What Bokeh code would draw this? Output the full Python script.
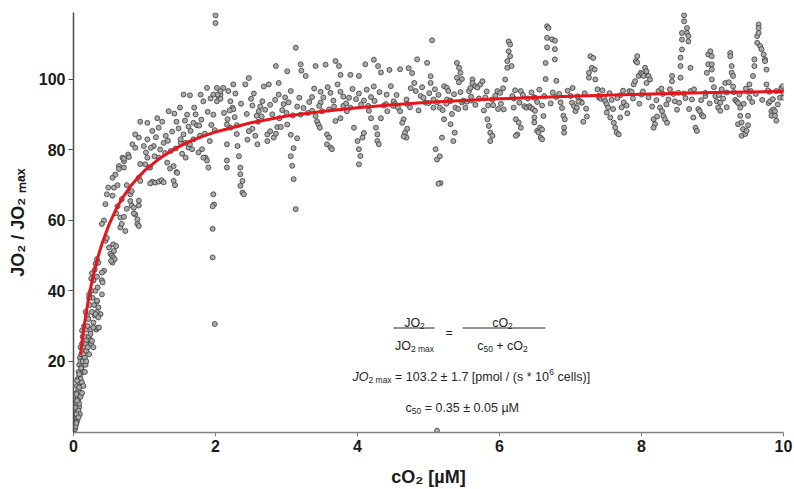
import math
from bokeh.plotting import figure
from bokeh.models import Range1d, FixedTicker, Label
from bokeh.embed import file_html
from bokeh.resources import INLINE

# ---------------- data (cO2 in µM, JO2/JO2max in %) ----------------
obs_rise = [
    (0.01, 0.5), (0.01, 2), (0.02, 1), (0.02, 3), (0.02, 5), (0.03, 2), (0.03, 6), (0.03, 9), (0.04, 4), (0.04, 7),
    (0.04, 11), (0.05, 3), (0.05, 8), (0.05, 13), (0.06, 6), (0.06, 10), (0.06, 15), (0.07, 9), (0.07, 12), (0.07, 17),
    (0.08, 7), (0.08, 14), (0.08, 19), (0.09, 11), (0.09, 16), (0.09, 21), (0.1, 10), (0.1, 15), (0.1, 20), (0.1, 24),
    (0.02, 0.8), (0.03, 1.5), (0.04, 2.5), (0.05, 4), (0.06, 5), (0.07, 6), (0.08, 8), (0.09, 5), (0.02, 6.9), (0.04, 5),
    (0.07, 4.1), (0.04, 10.7), (0.05, 8.8), (0.05, 14.5), (0.08, 12.6), (0.08, 16.4), (0.11, 18.3), (0.14, 20.2), (0.17, 23), (0.19, 24.9),
    (0.11, 18), (0.11, 22), (0.12, 14), (0.12, 25), (0.13, 20), (0.13, 27), (0.14, 17), (0.14, 22), (0.15, 24), (0.15, 30),
    (0.16, 21), (0.16, 27), (0.17, 19), (0.17, 25), (0.18, 23), (0.18, 29), (0.19, 26), (0.19, 33), (0.2, 24), (0.2, 30),
    (0.12, 11), (0.14, 13), (0.16, 17), (0.18, 20), (0.12, 28.7), (0.17, 34),
    (0.21, 32), (0.22, 27), (0.23, 36), (0.24, 29), (0.25, 40), (0.25, 25), (0.26, 34), (0.27, 38), (0.28, 31), (0.28, 43),
    (0.29, 36), (0.3, 33), (0.3, 46), (0.31, 40), (0.32, 29), (0.33, 37), (0.33, 44), (0.34, 41), (0.35, 48), (0.22, 38),
    (0.26, 45), (0.24, 26), (0.28, 24), (0.34, 29.5), (0.36, 29.6), (0.38, 33.4), (0.4, 39), (0.33, 34), (0.26, 25.8), (0.22, 22),
    (0.31, 47.7), (0.33, 49), (0.25, 43.5), (0.28, 43), (0.22, 39), (0.4, 43), (0.43, 45.7), (0.41, 42.4), (0.4, 45.2), (0.33, 37.2),
    (0.35, 35.3), (0.31, 33.4), (0.35, 32.5), (0.28, 29.6), (0.24, 27.8), (0.43, 60), (0.4, 59), (0.45, 64.6), (0.47, 67.4), (0.49, 69.3),
    (0.45, 54.2), (0.47, 55), (0.5, 52.3), (0.52, 50.5), (0.54, 50), (0.56, 49.5), (0.57, 51.3), (0.56, 53.2), (0.6, 52.7), (0.55, 48),
    (0.58, 49), (0.53, 48.5),
    (0.57, 69.3), (0.55, 67), (0.62, 70), (0.55, 72.1), (0.59, 73), (0.64, 75.4), (0.71, 76.8), (0.69, 77.8), (0.77, 78.7), (0.83, 81.6),
    (0.87, 84.4), (0.92, 83.5), (0.71, 75), (0.64, 74.6), (0.71, 77.5), (0.78, 78), (0.87, 80.6), (0.94, 88), (0.66, 58), (0.68, 59),
    (0.73, 57), (0.66, 60.8), (0.71, 61), (0.75, 63.3), (0.82, 64.2), (0.85, 63.6), (0.87, 61.7), (0.9, 60.3), (0.9, 59), (0.92, 58.4),
    (0.92, 64.2), (0.92, 65.6), (0.8, 65.5), (0.85, 62), (0.8, 67.4), (0.82, 68.3), (0.92, 72.1), (0.94, 71.2), (0.94, 76), (0.99, 81.1),
    (0.62, 64), (0.68, 66), (0.75, 70), (0.6, 62),
]

obs_knee = [
    (1.04, 87.7), (1.18, 89), (1.34, 91), (1.42, 90.3), (1.55, 95.7), (1.64, 95.5), (1.79, 95.7), (1.88, 97.6), (2.02, 97.6), (1.04, 77.8),
    (1.08, 75), (1.11, 71), (1.15, 70.7), (1.2, 71), (1.24, 71.4), (1.41, 71.2), (1.43, 70), (1.08, 70.5), (1.27, 70.8), (1.32, 76.4),
    (1.36, 74.7), (1.45, 73.7), (1.51, 82), (1.58, 82), (1.65, 85.4), (1.69, 87.7), (1.74, 87), (1.81, 80.2), (1.86, 77.8), (1.88, 77),
    (1.9, 75), (1.97, 67.4), (1.98, 64.5), (1.96, 64), (1.96, 57.6), (1.96, 49.5), (1.99, 30.6), (2.0, 118.2), (2.0, 116), (2.16, 81.6),
    (2.16, 77), (2.16, 75), (1.04, 83), (1.11, 85.4), (1.2, 86.3), (1.13, 81.1), (1.01, 75.9), (1.06, 75), (1.37, 79.7), (1.41, 75.4),
    (1.46, 73.5), (1.58, 77.8), (1.62, 80.7), (1.64, 81.6), (1.69, 83), (1.78, 84), (1.76, 79.3), (1.83, 77.8), (1.92, 82.5), (1.97, 90),
    (2.02, 93.8), (1.97, 95.7), (2.04, 95.2), (2.07, 95.7), (2.11, 97.6), (2.16, 87.2), (1.51, 83), (1.55, 84.4), (1.27, 82), (1.2, 77.8),
    (1.83, 93.8), (1.93, 94.6), (2.03, 95.7), (1.25, 88), (1.3, 84), (1.5, 92), (1.7, 92), (1.6, 90), (1.45, 88),
    (1.02, 79.3), (1.09, 80.6), (1.14, 78.2), (1.16, 83.6), (1.22, 80.1), (1.29, 79.1), (1.33, 82.6), (1.39, 85.2), (1.44, 80.4), (1.48, 86.1),
    (1.53, 78.9), (1.57, 88.3), (1.62, 86.6), (1.67, 80.2), (1.72, 90.1), (1.77, 86.9), (1.8, 88.6), (1.85, 84.6), (1.89, 90.8), (1.94, 87.1),
    (1.99, 85.6),
]

obs_mid = [
    (2.07, 96.7), (2.18, 96.7), (2.25, 98.6), (2.28, 96), (2.42, 98.6), (2.47, 100.4), (2.54, 96), (2.68, 98), (2.75, 98.6), (2.85, 103.8),
    (2.89, 99), (3.01, 102.3), (3.13, 109), (3.2, 104.3), (3.21, 102.5), (3.27, 101), (3.41, 103.8), (3.55, 104.2), (3.69, 105.2), (3.74, 103.8),
    (3.76, 101.3), (3.9, 101.3), (4.02, 101), (4.11, 104.3), (4.23, 105.6), (4.29, 103.8), (4.33, 102), (4.45, 102.7),
    (2.07, 94.5), (2.21, 93.8), (2.24, 92), (2.25, 91.5), (2.5, 94.5), (2.61, 91), (2.63, 92.3), (2.77, 92.8), (2.89, 95.7), (2.98, 94.9),
    (2.96, 93), (3.06, 96.7), (3.15, 92.3), (3.36, 95), (3.48, 96.5), (3.48, 93.4), (3.62, 96.2), (3.66, 94), (3.76, 96.5), (3.88, 94.8),
    (4.02, 96), (4.09, 94), (4.19, 95), (4.23, 98),
    (2.17, 88.7), (2.21, 86.3), (2.3, 84.5), (2.31, 81.1), (2.33, 78.2), (2.35, 75), (2.35, 73.1), (2.38, 71.2), (2.35, 69.8), (2.38, 67.9),
    (2.4, 67.4), (2.45, 82.9), (2.47, 85.3), (2.52, 86), (2.56, 84), (2.59, 81.6), (2.73, 84.4), (2.77, 85.3), (2.73, 82.5), (2.82, 83.5),
    (2.85, 84.6), (2.87, 86.5), (2.92, 86.5),
    (3.13, 63.2), (3.1, 71.7), (3.08, 75.5), (3.06, 78.2), (3.1, 80.5), (3.15, 83.3), (3.06, 84.3), (3.01, 87.2),
    (3.36, 91.1), (3.41, 89.6), (3.43, 88.1), (3.45, 87.2), (3.47, 86.3), (3.57, 84.4), (3.6, 83.5), (3.57, 81.6), (3.62, 80.7), (3.64, 80.2),
    (3.69, 88.2), (3.76, 89), (3.85, 91), (3.95, 86.3), (4.0, 82.5), (4.02, 80.2), (4.04, 78.3), (4.02, 75.9), (4.07, 83.5), (4.09, 84.8),
    (4.19, 89), (4.26, 86.3), (4.28, 84.4), (4.28, 82.5), (4.3, 81.6), (4.33, 89), (4.42, 91), (4.51, 93.8), (4.53, 93), (4.57, 92),
    (2.3, 87), (2.6, 88), (2.9, 89), (3.2, 90), (3.3, 90.5), (3.6, 91.5), (3.9, 92), (4.15, 92.5), (4.4, 93), (2.65, 89.5),
    (3.0, 90.5), (3.5, 91), (3.8, 92.5), (4.5, 92.5),
    (2.12, 90.5), (2.2, 91.2), (2.27, 89.3), (2.36, 93.1), (2.44, 90.2), (2.52, 92.6), (2.58, 89.7), (2.66, 93.8), (2.7, 91.4), (2.8, 90.1),
    (2.84, 94.2), (2.94, 91.3), (3.03, 93.5), (3.09, 89.8), (3.18, 94.8), (3.24, 91.9), (3.32, 93.6), (3.39, 97.4), (3.46, 92.5), (3.52, 94.9),
    (3.58, 97.8), (3.67, 92.3), (3.72, 98.6), (3.8, 95.1), (3.84, 93.2), (3.93, 97.3), (3.98, 94.4), (4.05, 92.9), (4.13, 97.1), (4.16, 91.1),
    (4.24, 93.9), (4.31, 96.4), (4.37, 92.6), (4.41, 95.7), (4.47, 98.1), (4.55, 95.6),
]

obs_plateau = [
    (4.6, 102.9), (4.72, 103.2), (4.77, 101.8), (4.84, 105.7), (4.98, 104.7), (5.05, 111.1), (5.03, 100.9), (5.03, 99), (4.8, 99), (4.82, 96.7),
    (4.75, 97.5), (4.69, 94.3), (4.89, 95.3), (4.93, 94.8), (4.96, 93.4), (5.07, 94.3), (5.12, 93.5), (5.07, 92), (5.16, 92), (5.22, 88.7),
    (5.31, 87.3), (5.35, 82.5), (5.37, 84.9), (5.19, 83.5), (5.1, 80.2), (5.12, 77.3), (5.16, 78.2), (5.17, 70.6), (5.14, 70.4), (5.12, 0.3),
    (4.6, 91), (4.65, 88.7), (4.63, 87.7), (4.67, 84.9), (4.69, 83.5), (4.65, 83.8), (4.7, 86),
    (5.22, 98.1), (5.26, 97.6), (5.28, 96.7), (5.26, 94.3), (5.31, 94), (5.4, 104.7), (5.43, 103.3), (5.45, 101.9), (5.4, 100.5), (5.47, 100.1),
    (5.43, 99.2), (5.38, 92), (5.42, 91.6), (5.47, 93.5), (5.49, 94), (5.52, 92), (5.57, 96.7), (5.59, 97.6), (5.62, 100), (5.62, 99),
    (5.66, 98.1), (5.69, 97.7), (5.73, 98.6), (5.76, 99.5), (5.8, 94.9), (5.84, 92.6), (5.83, 88.7), (5.85, 86.8), (5.87, 84.9), (5.9, 84),
    (5.87, 82.5),
    (5.97, 96.7), (6.01, 96.2), (5.98, 91.6), (6.05, 97.5), (6.08, 100), (6.11, 103.3), (6.11, 105.2), (6.13, 108), (6.15, 106.6), (6.13, 110.8),
    (6.15, 109.9), (6.17, 103.8), (6.2, 92), (6.23, 88.7), (6.27, 87.8), (6.3, 86.3), (6.25, 84.4), (6.23, 84),
    (6.3, 96.7), (6.35, 92.4), (6.38, 92), (6.42, 92.4), (6.44, 92), (6.47, 91.6), (6.49, 94.9), (6.5, 91.1), (6.49, 89.2), (6.49, 87.8),
    (6.53, 85.4), (6.55, 85), (6.57, 86.3), (6.6, 85.8), (6.58, 83.5), (6.6, 83),
    (6.67, 115.1), (6.69, 114.6), (6.67, 111.8), (6.74, 111.4), (6.78, 111), (6.78, 108.6), (6.67, 109.1), (6.65, 104.7), (6.78, 105.7), (6.65, 100.1),
    (6.8, 99.6), (6.63, 95.3), (6.62, 89.6),
    (6.86, 93.5), (6.9, 89.7), (6.92, 88.7), (6.91, 86.3), (6.91, 84.9), (7.0, 95.3), (7.02, 93.4), (7.05, 92.4), (7.07, 91), (7.09, 92),
    (7.14, 93.8), (7.16, 93.4), (7.18, 88), (7.23, 89.5), (7.26, 100.5), (7.26, 101.9), (7.3, 103.3), (7.34, 102.8), (7.28, 106.6), (7.32, 106.1),
    (7.35, 100), (7.38, 97.2), (7.4, 94.9), (7.43, 94.5),
    (7.47, 94.8), (7.49, 93.8), (7.51, 93), (7.51, 90.6), (7.53, 92), (7.56, 89.2), (7.58, 94.2), (7.61, 87.7), (7.63, 86.3), (7.65, 84.9),
    (7.68, 84.4), (7.7, 89.2), (7.72, 92.1), (7.75, 93.5), (7.79, 92.6), (7.83, 96.7), (7.86, 96.5), (7.89, 98.6), (7.91, 99.5), (7.92, 105.2),
    (7.94, 106.6), (7.94, 104.8), (7.96, 101), (7.99, 101.9), (8.01, 101.5), (8.03, 101), (8.05, 103.3), (8.07, 102.3), (8.07, 99), (8.1, 101),
    (8.12, 100),
    (8.17, 88.7), (8.19, 87.3), (8.17, 86.3), (8.22, 89.5), (8.24, 96.7), (8.26, 92), (8.29, 91), (8.31, 89.6), (8.33, 88.7), (8.36, 87.7),
    (8.38, 94.3), (8.4, 97.2), (8.43, 99.5), (8.43, 101), (8.47, 93.8), (8.5, 91.4), (8.52, 96.2), (8.55, 100.5), (8.55, 103.8), (8.55, 106.2),
    (8.57, 108.5), (8.57, 111.3), (8.57, 113.2), (8.6, 116.5), (8.6, 118.2), (8.64, 114.6), (8.64, 113.2), (8.66, 112.3), (8.66, 110.8), (8.69, 103.3),
    (8.69, 96.7), (8.71, 94.3), (8.73, 89.2), (8.76, 86.3), (8.78, 85.4), (8.8, 91.6), (8.82, 91), (8.85, 89.9), (8.87, 89.5), (8.9, 95.3),
    (8.92, 101.9), (8.94, 104.3), (8.94, 107.1), (8.97, 108), (8.99, 106.6), (8.99, 104.3), (8.99, 102.8), (8.99, 100), (9.04, 95.3), (9.06, 93.8),
    (9.08, 92), (9.11, 93.4), (9.11, 91.1), (9.13, 97.2), (9.18, 99), (9.23, 99.2), (9.25, 107.5), (9.25, 106.6), (9.27, 103.8), (9.27, 101.9),
    (9.29, 101), (9.29, 98), (9.32, 94.2), (9.34, 93.8), (9.36, 93.3), (9.36, 87.3), (9.39, 92), (9.39, 89.7), (9.41, 87.8), (9.43, 85.9),
    (9.41, 84), (9.46, 84.5), (9.48, 85.4), (9.5, 89.7), (9.5, 87), (9.52, 94.8), (9.52, 98.6), (9.54, 96.7), (9.57, 101), (9.59, 103.8),
    (9.59, 105.7), (9.63, 110.4), (9.63, 112.3), (9.65, 113.2), (9.65, 115.6), (9.65, 114.6), (9.67, 109.5), (9.69, 108.6), (9.72, 107.1), (9.74, 105.7),
    (9.74, 105.2), (9.76, 102.8), (9.76, 98.6), (9.79, 93.3), (9.81, 93.8), (9.83, 91), (9.83, 89.7), (9.86, 91.5), (9.88, 91), (9.88, 89.7),
    (9.9, 88.3), (9.9, 96.7), (9.95, 94.8), (9.97, 96.7), (9.97, 97.6), (10.0, 96.2), (10.0, 94.8),
    (4.7, 93), (5.0, 93.3), (5.3, 93.8), (5.6, 94), (5.9, 94.3), (6.2, 94.6), (6.5, 94.8), (6.8, 95), (7.1, 95.2), (7.4, 95.4),
    (7.7, 95.5), (8.0, 95.7), (8.3, 95.9), (8.6, 96), (8.9, 96.2), (9.2, 96.3), (9.5, 96.5), (9.8, 96.5),
    (4.74, 92.1), (4.86, 91.2), (4.91, 97.8), (5.01, 96.1), (5.09, 97.2), (5.14, 95.6), (5.2, 91.3), (5.25, 93.1), (5.33, 90.2), (5.36, 95.8),
    (5.45, 96.4), (5.54, 93.7), (5.6, 95.1), (5.66, 92.8), (5.71, 94.6), (5.78, 91.2), (5.82, 96.6), (5.91, 92.7), (5.94, 95.4), (6.02, 93.1),
    (6.06, 91.5), (6.18, 95.3), (6.22, 96.9), (6.28, 93.4), (6.33, 95.6), (6.4, 94.6), (6.45, 96.3), (6.53, 93.6), (6.56, 97.1), (6.6, 92.6),
    (6.72, 93.2), (6.75, 96.3), (6.84, 95.9), (6.88, 91.9), (6.96, 96.8), (7.03, 97.6), (7.11, 93.7), (7.2, 96.1), (7.22, 91.7), (7.45, 96.9),
    (7.55, 96.1), (7.6, 91.6), (7.66, 94.7), (7.74, 96.8), (7.8, 90.4), (7.88, 94.6), (7.97, 93.1), (8.02, 96.6), (8.1, 94.9), (8.15, 92.3),
    (8.21, 94.1), (8.28, 97.4), (8.35, 92.9), (8.45, 95.9), (8.53, 93.4), (8.62, 94.7), (8.67, 91.6), (8.74, 97.2), (8.84, 94.1), (8.96, 93.2),
    (9.02, 97.8), (9.09, 95.6), (9.15, 94.6), (9.2, 92.1), (9.3, 96.4), (9.38, 95.7), (9.44, 93.1), (9.47, 97.4), (9.56, 93.6), (9.61, 95.9),
    (9.7, 94.2), (9.78, 96.9), (9.85, 94.4), (9.92, 92.9), (9.99, 98.1),
]

fit_co2 = [0.1, 0.12, 0.15, 0.2, 0.25, 0.3, 0.35, 0.4, 0.5, 0.6, 0.7, 0.8, 0.9, 1.0, 1.2, 1.4, 1.6, 1.8,
           2.0, 2.5, 3.0, 3.5, 4.0, 4.5, 5.0, 6.0, 7.0, 8.0, 9.0, 10.0]
fit_jo2 = [22.2, 25.5, 30.0, 36.4, 41.7, 46.2, 50.0, 53.3, 58.8, 63.2, 66.7, 69.6, 72.0, 74.1, 77.4, 80.0, 82.1, 83.7,
           85.1, 87.7, 89.6, 90.9, 92.0, 92.8, 93.5, 94.5, 95.2, 95.8, 96.3, 96.6]

x_ticks = [0, 2, 4, 6, 8, 10]
y_ticks = [20, 40, 60, 80, 100]
x_title = "cO\u2082 [\u00b5M]"
y_title = "JO\u2082 / JO\u2082 \u2098\u2090\u2093"

# ---------------- layout ----------------
X0, X1 = 0, 10
Y0, Y1 = -0.2, 119
W, H = 794, 489
ML, MR, MT, MB = 73, 11, 12, 57
FL, FR = ML, W - MR      # frame in page pixels
FT, FB = MT, H - MB
FONT = "Liberation Sans"
TXT = "#262626"
NB = "\u00a0"


def px2x(px):
    return X0 + (px - FL) / (FR - FL) * (X1 - X0)


def py2y(py):
    return Y0 + (FB - py) / (FB - FT) * (Y1 - Y0)


REG = {' ': 278, NB: 278, '/': 278, '=': 584, '+': 584, '±': 584, '*': 389, '(': 333, ')': 333, '[': 278, ']': 278,
       '.': 278, 'J': 500, 'O': 778, 'M': 833, 'a': 556, 'c': 500, 'e': 556, 'l': 222, 'm': 833, 'o': 556,
       'p': 556, 's': 500, 'x': 500, 'µ': 576}


def tw(s, size):
    return sum(REG.get(ch, 556) for ch in s) * size / 1000.0


p = figure(width=W, height=H, x_range=Range1d(X0, X1), y_range=Range1d(Y0, Y1),
           output_backend="svg", toolbar_location=None,
           min_border_left=ML, min_border_right=MR, min_border_top=MT, min_border_bottom=MB)
p.outline_line_color = None
p.xgrid.visible = False
p.ygrid.visible = False
p.background_fill_color = "white"
p.border_fill_color = "white"

# observations
obs = obs_rise + obs_knee + obs_mid + obs_plateau
co2 = [a for a, b in obs]
jo2 = [b for a, b in obs]
p.scatter(co2, jo2, marker="circle", size=5, fill_color="#ababab", line_color="#3a3a3a", line_width=0.8)

# fit
p.line(fit_co2, fit_jo2, line_color="#e8141b", line_width=3, line_join="round", line_cap="round")

# axes
AX = "#1a1a1a"
xa = p.xaxis[0]
xa.ticker = FixedTicker(ticks=x_ticks)
xa.axis_line_color = "#808080"
xa.axis_line_width = 1.5
xa.major_tick_line_color = "#808080"
xa.major_tick_in = 0
xa.major_tick_out = 4
xa.minor_tick_line_color = None
xa.major_label_text_font = FONT
xa.major_label_text_font_style = "bold"
xa.major_label_text_font_size = "16px"
xa.major_label_text_color = AX
xa.major_label_standoff = 3
xa.axis_label = x_title
xa.axis_label_text_font = FONT
xa.axis_label_text_font_style = "bold"
xa.axis_label_text_font_size = "18px"
xa.axis_label_text_color = AX
xa.axis_label_standoff = 12

ya = p.yaxis[0]
ya.ticker = FixedTicker(ticks=y_ticks)
ya.axis_line_color = "#4d4d4d"
ya.axis_line_width = 1.5
ya.major_tick_line_color = "#4d4d4d"
ya.major_tick_in = 0
ya.major_tick_out = 5
ya.minor_tick_line_color = None
ya.major_label_text_font = FONT
ya.major_label_text_font_style = "bold"
ya.major_label_text_font_size = "16px"
ya.major_label_text_color = AX
ya.major_label_standoff = 3
ya.axis_label = y_title
ya.axis_label_text_font = FONT
ya.axis_label_text_font_style = "bold"
ya.axis_label_text_font_size = "18px"
ya.axis_label_text_color = AX
ya.axis_label_standoff = 8


def add_label(px, py, txt, size, style):
    p.add_layout(Label(x=px2x(px), y=py2y(py), x_units="data", y_units="data", text=txt,
                       text_font=FONT, text_font_size=f"{size}px", text_font_style=style,
                       text_color=TXT, text_align="left", text_baseline="alphabetic"))


def run_h(pieces, x_start, base):
    cur = x_start
    for txt, size, style, shift in pieces:
        add_label(cur, base + shift, txt, size, style)
        cur += tw(txt, size)
    return cur


def width_of(pieces):
    return sum(tw(t, s) for t, s, st, sh in pieces)


# equation block
FS, SS = 12.5, 8.5
num1 = [("JO", FS, "normal", 0), ("2", SS, "normal", 3)]
den1 = [("JO", FS, "normal", 0), ("2" + NB + "max", SS, "normal", 3)]
c1 = 414
run_h(num1, c1 - width_of(num1) / 2, 322)
run_h(den1, c1 - width_of(den1) / 2, 345)
add_label(445, 332, "=", FS, "normal")
num2 = [("cO", FS, "normal", 0), ("2", SS, "normal", 3)]
den2 = [("c", FS, "normal", 0), ("50", SS, "normal", 3), (NB + "+" + NB + "cO", FS, "normal", 0), ("2", SS, "normal", 3)]
c2 = 502
run_h(num2, c2 - width_of(num2) / 2, 322)
run_h(den2, c2 - width_of(den2) / 2, 345)
p.segment(x0=[px2x(393), px2x(462)], y0=[py2y(327.5)] * 2, x1=[px2x(434), px2x(545)], y1=[py2y(327.5)] * 2,
          line_color=TXT, line_width=1)

line2 = [("JO", FS, "italic", 0), ("2" + NB + "max", SS, "normal", 3),
         (NB + "=" + NB + "103.2" + NB + "±" + NB + "1.7" + NB + "[pmol" + NB + "/" + NB + "(s" + NB + "*" + NB + "10", FS, "normal", 0),
         ("6", SS, "normal", -5), (NB + "cells)]", FS, "normal", 0)]
run_h(line2, 352, 376)
line3 = [("c", FS, "normal", 0), ("50", SS, "normal", 3),
         (NB + "=" + NB + "0.35" + NB + "±" + NB + "0.05" + NB + "µM", FS, "normal", 0)]
run_h(line3, 405, 407)

open("out.html", "w").write(file_html(p, INLINE))
